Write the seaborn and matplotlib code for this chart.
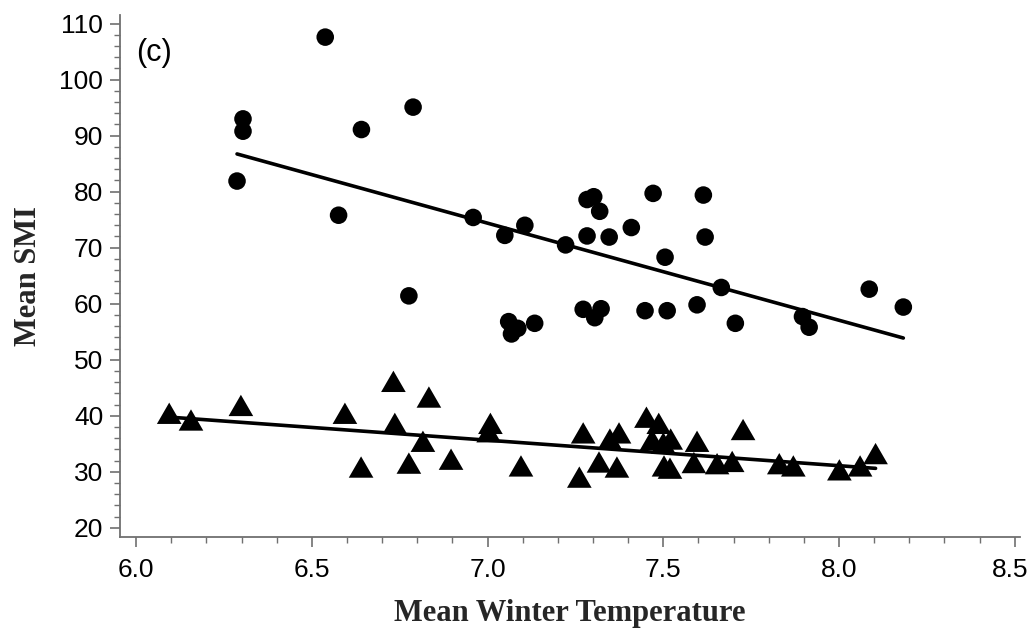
import matplotlib
matplotlib.use("Agg")
import matplotlib.pyplot as plt
from matplotlib.ticker import MultipleLocator
import matplotlib.transforms as mtransforms
import seaborn as sns
import pandas as pd

# ---- data ----
circle_x = [6.287, 6.304, 6.304, 6.538, 6.576, 6.641, 6.776, 6.788, 6.959, 7.049,
            7.060, 7.068, 7.086, 7.106, 7.134, 7.222, 7.272, 7.283, 7.283, 7.302,
            7.305, 7.319, 7.323, 7.346, 7.409, 7.448, 7.471, 7.505, 7.511, 7.596,
            7.614, 7.619, 7.665, 7.705, 7.896, 7.915, 8.086, 8.183]
circle_y = [81.9, 93.0, 90.8, 107.6, 75.8, 91.1, 61.4, 95.1, 75.4, 72.2,
            56.8, 54.6, 55.6, 74.0, 56.5, 70.5, 59.0, 72.1, 78.6, 79.1,
            57.5, 76.5, 59.1, 71.9, 73.6, 58.75, 79.7, 68.3, 58.75, 59.8,
            79.4, 71.9, 62.9, 56.5, 57.7, 55.8, 62.6, 59.4]

tri_x = [6.094, 6.156, 6.298, 6.594, 6.640, 6.732, 6.736, 6.776, 6.816, 6.833,
         6.896, 7.008, 7.003, 7.095, 7.261, 7.272, 7.317, 7.348, 7.374, 7.368,
         7.452, 7.487, 7.468, 7.500, 7.521, 7.502, 7.519, 7.596, 7.587, 7.653,
         7.696, 7.727, 7.830, 7.870, 8.001, 8.060, 8.104]
tri_y = [39.8, 38.6, 41.2, 39.8, 30.2, 45.5, 38.0, 30.9, 34.8, 42.7,
         31.6, 38.0, 36.5, 30.4, 28.4, 36.3, 31.1, 35.2, 36.3, 30.2,
         39.1, 38.0, 35.1, 34.5, 35.2, 30.4, 30.0, 34.8, 31.0, 30.8,
         31.2, 36.9, 30.8, 30.4, 29.7, 30.4, 32.6]

x_ticks = [6.0, 6.5, 7.0, 7.5, 8.0, 8.5]
y_ticks = [20, 30, 40, 50, 60, 70, 80, 90, 100, 110]
x_label = "Mean Winter Temperature"
y_label = "Mean SMI"
panel_label = "(c)"

df_c = pd.DataFrame({"x": circle_x, "y": circle_y})
df_t = pd.DataFrame({"x": tri_x, "y": tri_y})

sns.set_theme(style="ticks")
plt.rcParams["font.family"] = ["Liberation Sans", "DejaVu Sans"]

fig = plt.figure(figsize=(10.28, 6.28), dpi=100)
ax = fig.add_axes([120 / 1028, 1 - 537.3 / 628, 900 / 1028, (537.3 - 15) / 628])

# equilateral triangle, data point at its centroid
tri_marker = [(-1, -0.577), (1, -0.577), (0, 1.155), (-1, -0.577)]

sns.scatterplot(data=df_c, x="x", y="y", ax=ax, marker="o", s=160,
                color="black", edgecolor="none", zorder=3)
sns.scatterplot(data=df_t, x="x", y="y", ax=ax, marker=tri_marker, s=420,
                color="black", edgecolor="none", zorder=3)
sns.regplot(data=df_c, x="x", y="y", ax=ax, scatter=False, ci=None,
            truncate=True, line_kws={"color": "black", "lw": 2.6, "zorder": 4})
sns.regplot(data=df_t, x="x", y="y", ax=ax, scatter=False, ci=None,
            truncate=True, line_kws={"color": "black", "lw": 2.6, "zorder": 4})

ax.set_xlim(5.954, 8.515)
ax.set_ylim(18.29, 111.55)
ax.set_xticks(x_ticks)
ax.set_xticklabels([f"{v:.1f}" for v in x_ticks], fontsize=19)
ax.set_yticks(y_ticks)
ax.set_yticklabels([str(v) for v in y_ticks], fontsize=19)
ax.xaxis.set_minor_locator(MultipleLocator(0.1))
ax.yaxis.set_minor_locator(MultipleLocator(2))

for side in ["top", "right"]:
    ax.spines[side].set_visible(False)
for side in ["left", "bottom"]:
    ax.spines[side].set_color("#707070")
    ax.spines[side].set_linewidth(1.3)

ax.tick_params(axis="both", which="major", length=7, width=1.2, color="#707070",
               labelcolor="black", direction="out")
ax.tick_params(axis="both", which="minor", length=4, width=1.0, color="#707070",
               direction="out")
ax.tick_params(axis="y", which="major", pad=5)
ax.tick_params(axis="x", which="major", pad=8)

# keep the last x tick label inside the canvas
last = ax.get_xticklabels()[-1]
last.set_transform(last.get_transform() +
                   mtransforms.ScaledTranslation(-5 / 100, 0, fig.dpi_scale_trans))

ax.set_xlabel(x_label, family=["Liberation Serif", "DejaVu Serif"],
              fontweight="bold", fontsize=22, labelpad=12.5)
ax.set_ylabel(y_label, family=["Liberation Serif", "DejaVu Serif"],
              fontweight="bold", fontsize=22, labelpad=12)
ax.text(136 / 1028, 1 - 53 / 628, panel_label, transform=fig.transFigure,
        fontsize=22, ha="left", va="center", color="black")

ax.grid(False)
fig.savefig("out.png", dpi=100, facecolor="white")
